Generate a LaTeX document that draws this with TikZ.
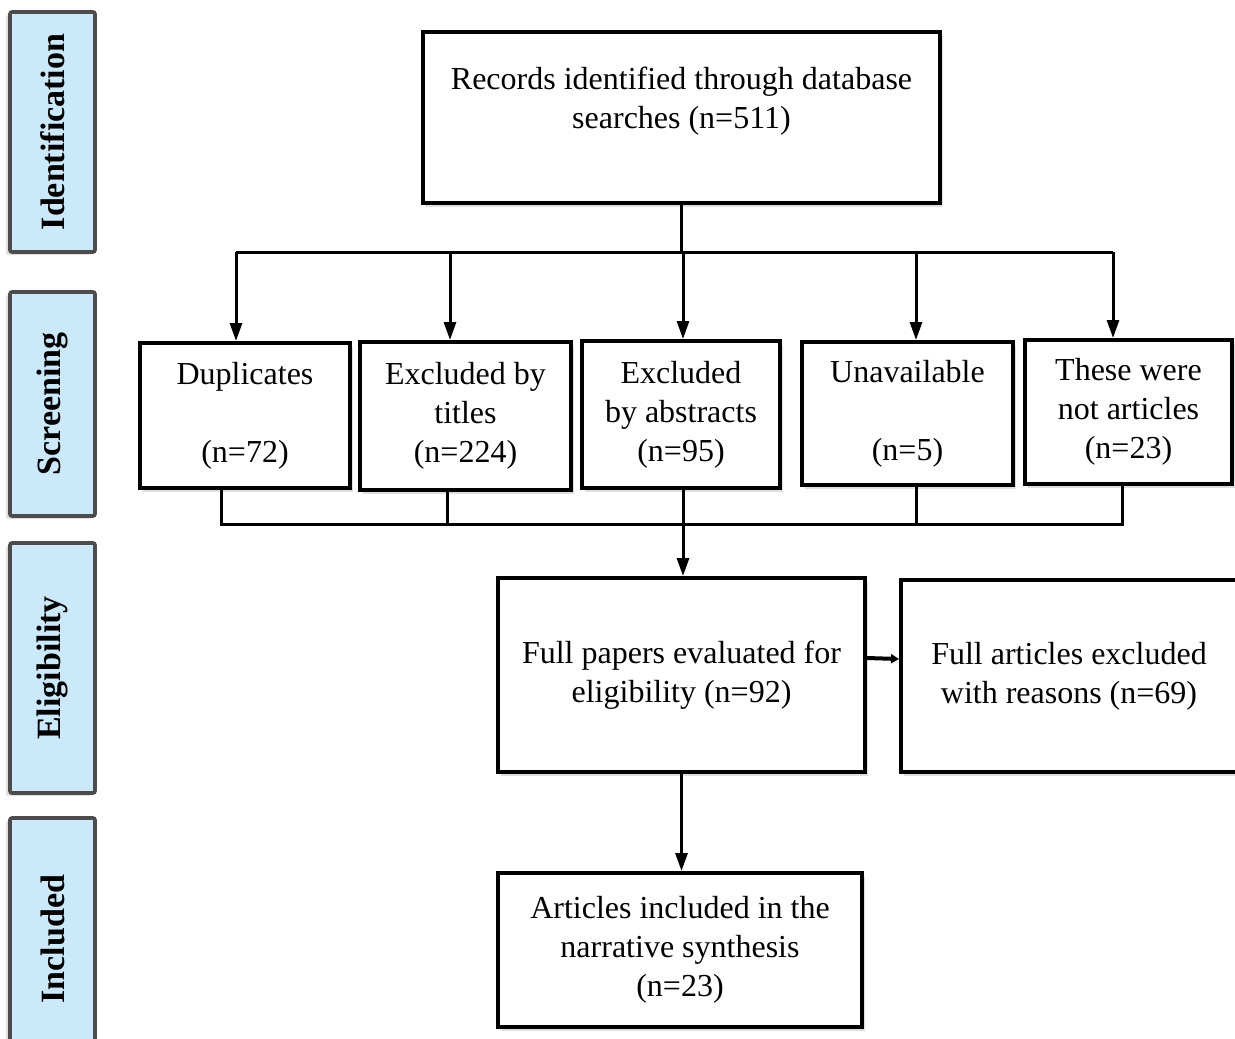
\documentclass[tikz,border=0pt]{standalone}
\usepackage{fontspec}
\setmainfont{Liberation Serif}
\usetikzlibrary{arrows.meta,shadows}
\definecolor{stageblue}{HTML}{CCE9FB}
\tikzset{
  stage/.style={
    % The shape:
    shape=rectangle,rounded corners=1pt,rotate=90,
    % The size:
    minimum height=42.5pt,
    % The border:
    line width=1.8pt,draw=black!70,
    % The filling:
    fill=stageblue,
    drop shadow={opacity=0.25,shadow xshift=-2pt,shadow yshift=-1.5pt},
    font=\fontsize{17pt}{20pt}\selectfont\bfseries}}
\tikzset{
  box/.style={
    % The shape:
    shape=rectangle,inner sep=0pt,align=center,
    % The border:
    line width=2pt,draw=black,
    % The filling:
    fill=white,
    drop shadow={opacity=0.25,shadow xshift=1.5pt,shadow yshift=-2pt},
    font=\fontsize{16pt}{19.5pt}\selectfont}}
\tikzset{
  link/.style={line width=1.5pt},
  arr/.style={link,-{Triangle[length=9pt,width=6pt]}}}

\begin{document}
\begin{tikzpicture}[x=0.5pt,y=-0.5pt]
	\useasboundingbox (0,0) rectangle (1235,1038);
	% Stages on the left
	\node[stage,minimum width=120pt] (sid) at (52.5,132) {Identification};
	\node[stage,minimum width=112pt] (sscr) at (52.5,404) {Screening};
	\node[stage,minimum width=125pt] (selig) at (52.5,668) {Eligibility};
	\node[stage,minimum width=121pt] (sinc) at (52.5,939) {Included};
	% Boxes
	\node[box,minimum width=258.5pt,minimum height=85.5pt] (rec) at (681.5,117.5)
		{Records identified through database\\searches (n=511)\\~};
	\node[box,minimum width=105pt,minimum height=72.5pt] (dup) at (245,415.5)
		{Duplicates\\~\\(n=72)};
	\node[box,minimum width=105.5pt,minimum height=74pt] (tit) at (465.5,416)
		{Excluded by\\titles\\(n=224)};
	\node[box,minimum width=99pt,minimum height=73.5pt] (abs) at (681,414.5)
		{Excluded\\by abstracts\\(n=95)};
	\node[box,minimum width=105.5pt,minimum height=71.5pt] (una) at (907.5,413.5)
		{Unavailable\\~\\(n=5)};
	\node[box,minimum width=103.5pt,minimum height=72pt] (nota) at (1128.5,412)
		{These were\\not articles\\(n=23)};
	\node[box,minimum width=183.5pt,minimum height=97pt] (full) at (681.5,675)
		{Full papers evaluated for\\eligibility (n=92)};
	\node[box,minimum width=168pt,minimum height=96pt] (excl) at (1069,676)
		{Full articles excluded\\with reasons (n=69)};
	\node[box,minimum width=182pt,minimum height=77pt] (inc) at (680,950)
		{Articles included in the\\narrative synthesis\\(n=23)};
	% Split points
	\coordinate (t0) at (681,252);
	\coordinate (t1) at (236,252);
	\coordinate (t2) at (450,252);
	\coordinate (t3) at (683,252);
	\coordinate (t4) at (916,252);
	\coordinate (t5) at (1113,252);
	\coordinate (b1) at (221,524);
	\coordinate (b2) at (447,524);
	\coordinate (b3) at (683,524);
	\coordinate (b4) at (916,524);
	\coordinate (b5) at (1122,524);
	% Lines out of rec
	\draw[link] (rec.south -| t0) -- (t0);
	\draw[link] (t1) -- (t5);
	\draw[arr] (t1) -- (t1 |- dup.north);
	\draw[arr] (t2) -- (t2 |- tit.north);
	\draw[arr] (t3) -- (t3 |- abs.north);
	\draw[arr] (t4) -- (t4 |- una.north);
	\draw[arr] (t5) -- (t5 |- nota.north);
	% Lines into full
	\draw[link] (b1 |- dup.south) -- (b1) -- (b5) -- (b5 |- nota.south);
	\draw[link] (b2 |- tit.south) -- (b2);
	\draw[link] (b3 |- abs.south) -- (b3);
	\draw[link] (b4 |- una.south) -- (b4);
	\draw[arr] (b3) -- (b3 |- full.north);
	% Lines out of full
	\draw[line width=2pt,-{Triangle[length=4pt,width=4.5pt]}]
		([yshift=8.5pt]full.east) -- ([yshift=8.5pt]excl.west);
	\draw[arr] (full.south) -- (full.south |- inc.north);
\end{tikzpicture}
\end{document}
